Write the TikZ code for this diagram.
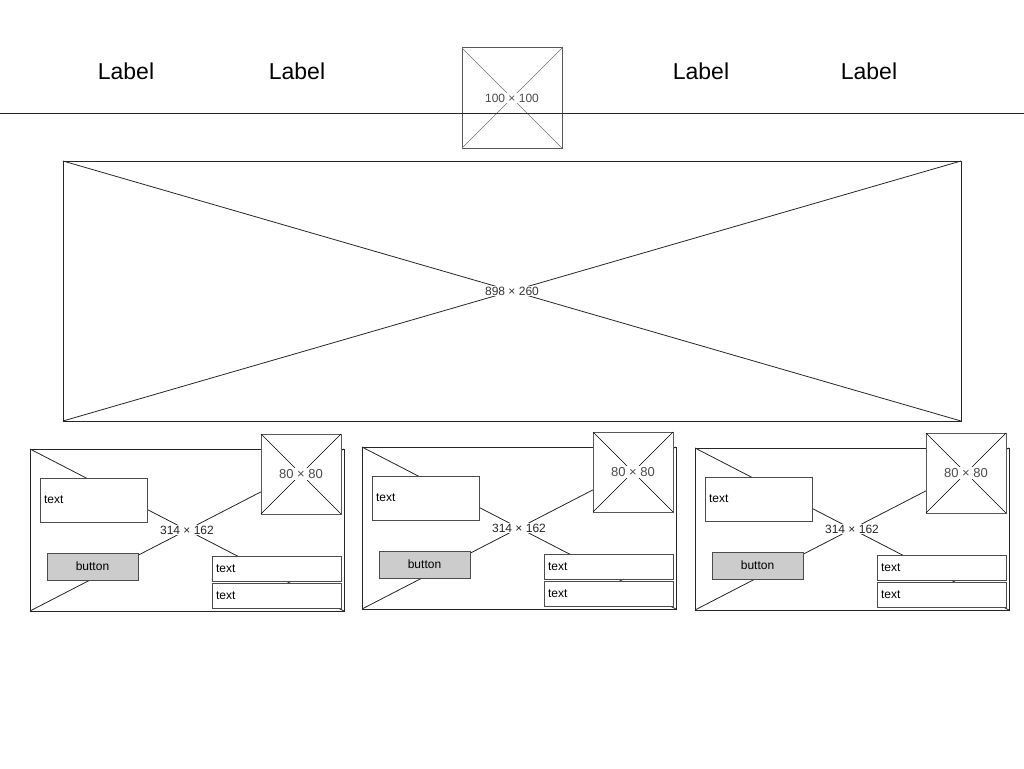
\documentclass[tikz,border=0pt]{standalone}
\usepackage{fontspec}
\setmainfont{Liberation Sans}
\usetikzlibrary{positioning}

\begin{document}
\begin{tikzpicture}[x=1pt,y=-1pt,
    navlabel/.style={font=\fontsize{23}{27}\selectfont},
    imgbox/.style={draw=black!65,line width=1pt,fill=none,inner sep=0,outer sep=0,anchor=north west},
    imgsize/.style={fill=white,text=black!70,inner sep=1pt,font=\fontsize{12}{14}\selectfont},
    cardbox/.style={draw=black!85,line width=0.9pt,inner sep=0,outer sep=0,anchor=north west,minimum width=314pt,minimum height=162pt},
    textbox/.style={draw=black!70,line width=0.9pt,fill=white,inner ysep=0,inner xsep=4pt,outer sep=0,anchor=north west,align=left,font=\fontsize{12}{14}\selectfont},
    btnbox/.style={draw=black!70,line width=0.9pt,fill=black!20,inner sep=0,outer sep=0,anchor=north west,minimum width=91pt,minimum height=27pt,font=\fontsize{12}{14}\selectfont}]
  \useasboundingbox (0,0) rectangle (1024,768);

  % header
  \node[navlabel](lbl1)at(126,71){Label};
  \node[navlabel](lbl2)at(297,71){Label};
  \node[navlabel](lbl3)at(701,71){Label};
  \node[navlabel](lbl4)at(869,71){Label};

  \node[imgbox,minimum width=100pt,minimum height=100pt](logo)at(462,48){};
  \draw[black!55,thin](logo.north west)--(logo.south east);
  \draw[black!55,thin](logo.north east)--(logo.south west);
  \node[imgsize](logosize)at(logo.center){100 × 100};

  \coordinate(navl)at(0,113);
  \coordinate(navr)at(1024,113);
  \draw[black!85,line width=0.8pt](navl)--(navr);

  % hero image
  \node[imgbox,draw=black!85,minimum width=898pt,minimum height=260pt](hero)at(63,161){};
  \draw[black!85,line width=0.8pt](hero.north west)--(hero.south east);
  \draw[black!85,line width=0.8pt](hero.north east)--(hero.south west);
  \node[imgsize,text=black!80](herosize)at(hero.center){898 × 260};

  % cards
  \foreach \dx/\dy/\i in {0/0/1,332/-2/2,665/-1/3}{
    \node[cardbox](card\i)at(30+\dx,449+\dy){};
    \draw[black!85,line width=0.8pt](card\i.north west)--(card\i.south east);
    \draw[black!85,line width=0.8pt](card\i.north east)--(card\i.south west);
    \node[imgsize,text=black!85](cardsize\i)at(card\i.center){314 × 162};

    \node[imgbox,fill=white,minimum width=80pt,minimum height=80pt](thumb\i)at(261+\dx,434+\dy){};
    \draw[black,thin](thumb\i.north west)--(thumb\i.south east);
    \draw[black,thin](thumb\i.north east)--(thumb\i.south west);
    \node[imgsize,font=\fontsize{13}{15}\selectfont](thumbsize\i)at(thumb\i.center){80 × 80};

    \node[textbox,text width=99pt,minimum height=44pt](title\i)at(40+\dx,478+\dy){text};
    \node[btnbox](btn\i)at(47+\dx,553+\dy){button};
    \node[textbox,text width=121pt,minimum height=25pt](info\i)at(212+\dx,556+\dy){text};
    \node[textbox,text width=121pt,minimum height=25pt](more\i)at(212+\dx,583+\dy){text};
  }
\end{tikzpicture}
\end{document}
